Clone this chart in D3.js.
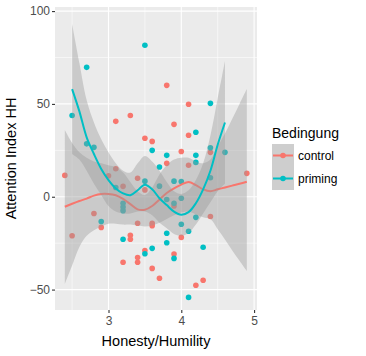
<!DOCTYPE html>
<html><head><meta charset="utf-8">
<script src="https://cdn.jsdelivr.net/npm/d3@7"></script>
<style>
html,body{margin:0;padding:0;background:#fff;}
svg text{font-family:"Liberation Sans",Arial,sans-serif;}
</style></head>
<body>
<svg id="chart" width="366" height="356"></svg>
<script>
// ---- data ----
const groups = ["control", "priming"];
const groupColors = ["#F8766D", "#00BFC4"];

const controlX = [2.4,2.5,2.8,2.9,3.0,3.1,3.1,3.2,3.2,3.3,3.3,3.3,3.4,3.4,3.4,3.4,3.5,3.5,3.5,3.6,3.6,3.6,3.6,3.7,3.8,3.8,3.9,3.9,3.9,4.0,4.0,4.1,4.1,4.1,4.3,4.2,4.4,4.4,4.9];
const controlY = [11.5,-21,-9,-16.5,11.3,40.6,15.1,5.6,-35.3,43.8,-20.8,-22.9,10,-14.3,-32.7,-35.3,31.5,3.7,-29,29.8,-14.3,-15.6,-38.6,-43.9,60,18,39,-5,-30.9,24.4,-21.9,49.8,33.1,17,-45,-47.7,23.9,-10.6,12.6];

const primingX = [2.5,2.7,2.7,2.8,2.9,3.1,3.2,3.2,3.2,3.2,3.5,3.5,3.5,3.6,3.6,3.7,3.7,3.8,3.8,3.8,3.8,3.9,3.9,3.9,4.0,4.0,4.0,4.1,4.1,4.2,4.2,4.2,4.2,4.3,4.4,4.4,4.4,4.6];
const primingY = [43.8,69.7,28.5,26.6,-13.3,5,-22.9,-3.5,-5.5,-7.5,81.6,8.4,-30.7,25,-27.8,16,5.7,22.3,-1.5,-19.7,-24.8,8.4,-3.5,-33.2,8.2,-0.8,-14.8,-18.6,-54.2,34.7,22.3,18.5,-11.1,-27.2,50.3,26.4,10.2,23.9];

// smoothed (loess) curves and their confidence bands
const controlSmoothX  = [2.4,2.5,2.6,2.7,2.8,2.9,3.0,3.1,3.2,3.3,3.4,3.5,3.6,3.7,3.8,3.9,4.0,4.1,4.2,4.3,4.4,4.5,4.6,4.7,4.8,4.9];
const controlSmoothY  = [-5.4,-3.8,-2.3,-1,0.6,1.5,1.5,0.8,-1.2,-4,-6.8,-7,-5,-1.5,2,4.5,6.5,8,6.3,4,3,4,5,6,7,8.1];
const controlSmoothLo = [-47,-37,-27,-21,-18,-16,-14.5,-14.5,-15,-15,-15.5,-16,-15.5,-14,-12,-10,-8.5,-8,-9.5,-11,-12,-17.5,-23,-29,-34.5,-40];
const controlSmoothHi = [36,29,24,21,19,18,17,16,13,8,3,1,5,12,17,20,21,21,19,18,20,27,34,42,50,58];

const primingSmoothX  = [2.5,2.6,2.7,2.8,2.9,3.0,3.1,3.2,3.3,3.4,3.5,3.6,3.7,3.8,3.9,4.0,4.1,4.2,4.3,4.4,4.5,4.6];
const primingSmoothY  = [58,46,32,23,15,9,4.5,1.8,0.8,3.5,6.5,4,-0.8,-4.5,-8,-9.7,-8.3,-3.5,4,14,28,40];
const primingSmoothLo = [23,20,14,7,1,-5,-8,-9,-9,-8,-8,-10,-14,-17,-20,-21,-19.5,-15,-9,-3,3,7];
const primingSmoothHi = [93,72,52,40,31,24,18,14,13,18,22,19,14,8,3,1.5,3.5,9,18,33,53,73];

const xTicks = [3, 4, 5];
const xMinor = [2.5, 3.5, 4.5];
const yTicks = [-50, 0, 50, 100];
const yMinor = [-25, 25, 75];

// ---- layout ----
const svg = d3.select("#chart");
const panel = {left: 55, top: 7, right: 257, bottom: 310};
const x = d3.scaleLinear().domain([2.265, 5.04]).range([panel.left, panel.right]);
const y = d3.scaleLinear().domain([-61, 102.2]).range([panel.bottom, panel.top]);

svg.append("rect").attr("width", 366).attr("height", 356).attr("fill", "#fff");
svg.append("rect")
  .attr("x", panel.left).attr("y", panel.top)
  .attr("width", panel.right - panel.left).attr("height", panel.bottom - panel.top)
  .attr("fill", "#EBEBEB");

const grid = svg.append("g");
yMinor.forEach(v => grid.append("line").attr("x1", panel.left).attr("x2", panel.right)
  .attr("y1", y(v)).attr("y2", y(v)).attr("stroke", "#fff").attr("stroke-width", 0.55));
xMinor.forEach(v => grid.append("line").attr("y1", panel.top).attr("y2", panel.bottom)
  .attr("x1", x(v)).attr("x2", x(v)).attr("stroke", "#fff").attr("stroke-width", 0.55));
yTicks.forEach(v => grid.append("line").attr("x1", panel.left).attr("x2", panel.right)
  .attr("y1", y(v)).attr("y2", y(v)).attr("stroke", "#fff").attr("stroke-width", 1.1));
xTicks.forEach(v => grid.append("line").attr("y1", panel.top).attr("y2", panel.bottom)
  .attr("x1", x(v)).attr("x2", x(v)).attr("stroke", "#fff").attr("stroke-width", 1.1));

// points
const pts = [
  {xs: controlX, ys: controlY, c: groupColors[0]},
  {xs: primingX, ys: primingY, c: groupColors[1]}
];
const pg = svg.append("g");
pts.forEach(p => {
  pg.selectAll(null).data(d3.range(p.xs.length)).enter().append("circle")
    .attr("cx", i => x(p.xs[i])).attr("cy", i => y(p.ys[i]))
    .attr("r", 2.8).attr("fill", p.c);
});

// smooths: ribbon then line, per group
const smooths = [
  {sx: controlSmoothX, sy: controlSmoothY, lo: controlSmoothLo, hi: controlSmoothHi, c: groupColors[0]},
  {sx: primingSmoothX, sy: primingSmoothY, lo: primingSmoothLo, hi: primingSmoothHi, c: groupColors[1]}
];
const curve = d3.curveCatmullRom.alpha(0.5);
const sg = svg.append("g");
smooths.forEach(s => {
  const idx = d3.range(s.sx.length);
  const area = d3.area().curve(curve)
    .x(i => x(s.sx[i])).y0(i => y(s.lo[i])).y1(i => y(s.hi[i]));
  sg.append("path").attr("d", area(idx)).attr("fill", "#999999").attr("fill-opacity", 0.4);
  const line = d3.line().curve(curve).x(i => x(s.sx[i])).y(i => y(s.sy[i]));
  sg.append("path").attr("d", line(idx)).attr("fill", "none")
    .attr("stroke", s.c).attr("stroke-width", 2);
});

// axes
const yAxis = svg.append("g").attr("transform", `translate(${panel.left},0)`)
  .call(d3.axisLeft(y).tickValues(yTicks).tickSize(3).tickPadding(2).tickFormat(d3.format("d")));
const xAxis = svg.append("g").attr("transform", `translate(0,${panel.bottom})`)
  .call(d3.axisBottom(x).tickValues(xTicks).tickSize(3).tickPadding(3).tickFormat(d3.format("d")));
[yAxis, xAxis].forEach(a => {
  a.select(".domain").remove();
  a.selectAll(".tick line").attr("stroke", "#333333").attr("stroke-width", 1.1);
  a.selectAll(".tick text").attr("fill", "#4D4D4D").style("font-size", "12px")
    .style("font-family", "'Liberation Sans', Arial, sans-serif");
});

// axis titles
svg.append("text").attr("x", (panel.left + panel.right) / 2).attr("y", 346)
  .attr("text-anchor", "middle").style("font-size", "14.5px").attr("fill", "#000")
  .text("Honesty/Humility");
svg.append("text").attr("transform", `translate(16,${(panel.top + panel.bottom) / 2}) rotate(-90)`)
  .attr("text-anchor", "middle").style("font-size", "14.5px").attr("fill", "#000")
  .text("Attention Index HH");

// legend
const lg = svg.append("g");
lg.append("text").attr("x", 272).attr("y", 138).style("font-size", "14px").attr("fill", "#000")
  .text("Bedingung");
groups.forEach((g, i) => {
  const top = 144 + i * 23;
  lg.append("rect").attr("x", 272).attr("y", top).attr("width", 22).attr("height", 23)
    .attr("fill", "#F2F2F2");
  lg.append("rect").attr("x", 272).attr("y", top).attr("width", 22).attr("height", 23)
    .attr("fill", "#999999").attr("fill-opacity", 0.4);
  lg.append("line").attr("x1", 273).attr("x2", 293).attr("y1", top + 11.5).attr("y2", top + 11.5)
    .attr("stroke", groupColors[i]).attr("stroke-width", 2);
  lg.append("circle").attr("cx", 283).attr("cy", top + 11.5).attr("r", 2.8).attr("fill", groupColors[i]);
  lg.append("text").attr("x", 298).attr("y", top + 16).style("font-size", "12px").attr("fill", "#000")
    .text(g);
});
</script>
</body></html>
